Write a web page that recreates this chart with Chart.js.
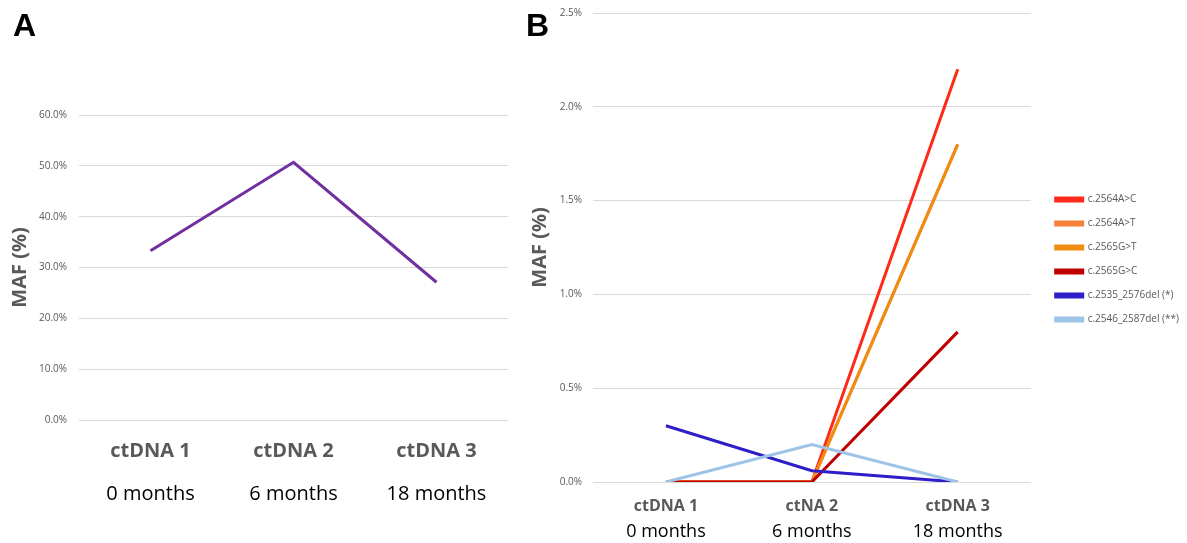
<!DOCTYPE html>
<html>
<head>
<meta charset="utf-8">
<script src="https://cdn.jsdelivr.net/npm/chart.js@4.4.0/dist/chart.umd.min.js"></script>
<style>
body { margin: 0; background: #fff; width: 1187px; height: 543px; overflow: hidden; position: relative; }
.panel { position: absolute; top: 0; height: 543px; }
.tag { position: absolute; top: 9px; font: bold 32px/32px "Liberation Sans", Arial, sans-serif; color: #000; }
</style>
</head>
<body>
<div class="panel" style="left:0;width:520px"><canvas id="chartA"></canvas></div>
<div class="panel" style="left:520px;width:667px"><canvas id="chartB"></canvas></div>
<div class="tag" style="left:13px">A</div>
<div class="tag" style="left:526px">B</div>

<script>
// --- données ---
const samplesA = ['ctDNA 1', 'ctDNA 2', 'ctDNA 3'];
const samplesB = ['ctDNA 1', 'ctNA 2', 'ctDNA 3'];
const months = ['0 months', '6 months', '18 months'];

// panneau A : MAF totale (%)
const mafA = [33.3, 50.7, 27.1];

// panneau B : MAF par variant (%)
const variantNames = ['c.2564A>C', 'c.2564A>T', 'c.2565G>T', 'c.2565G>C', 'c.2535_2576del (*)', 'c.2546_2587del (**)'];
const maf2564AC = [0, 0, 2.2];
const maf2564AT = [0, 0, 1.8];   // caché sous c.2565G>T sur la figure
const maf2565GT = [0, 0, 1.8];
const maf2565GC = [0, 0, 0.8];
const maf2535del = [0.3, 0.06, 0];
const maf2546del = [0, 0.2, 0];

const ticksA = { min: 0, max: 60, step: 10 };
const ticksB = { min: 0, max: 2.5, step: 0.5 };

const variantColors = ['#ff2a1a', '#f4803c', '#f08c10', '#c00000', '#2e1ec8', '#9dc3e6'];

const grey = '#595959';
const baseFont = '"Open Sans", "Noto Sans", sans-serif';

// axe Y : largeur fixée pour caler la zone du graphique
// (lineHeight réduit : sinon la marge réservée en haut dépasse celle d'Excel)
function yScale(t, padTick, width) {
    return {
        min: t.min, max: t.max,
        afterFit: s => { s.width = width; },
        ticks: { stepSize: t.step, padding: padTick, color: grey,
                 font: { family: baseFont, size: 10, lineHeight: 0.2 },
                 callback: v => v.toFixed(1) + '%' },
        grid: { color: '#d9d9d9', drawTicks: false },
        border: { display: false },
        title: { display: true, text: 'MAF (%)', color: grey, padding: { top: 8, bottom: 0 },
                 font: { family: baseFont, size: 20, weight: 'bold' } }
    };
}

// deux axes X empilés : échantillon (gras, gris) puis délai (noir)
function xScales(size1, size2, pad1, pad2, h1, h2) {
    return {
        x: {
            offset: true,
            afterFit: s => { s.height = h1; },
            grid: { display: false, drawTicks: false }, border: { display: false },
            ticks: { padding: pad1, color: grey, font: { family: baseFont, size: size1, weight: 'bold' } }
        },
        x2: {
            type: 'category', labels: months, offset: true, position: 'bottom',
            afterFit: s => { s.height = h2; },
            grid: { display: false, drawTicks: false }, border: { display: false },
            ticks: { padding: pad2, color: '#000', font: { family: baseFont, size: size2 } }
        }
    };
}

// décale la légende de B (plus loin du tracé, un peu plus haut)
const legendNudge = {
    id: 'legendNudge',
    afterLayout(chart) {
        const lg = chart.legend;
        lg.left += 11; lg.right += 11;
        lg.bottom -= 37; lg.height -= 37;
    }
};

// --- graphique A ---
const scalesA = xScales(20, 20, 19, 19, 43, 50);
scalesA.y = yScale(ticksA, 12, 79);
new Chart(document.getElementById('chartA'), {
    type: 'line',
    data: {
        labels: samplesA,
        datasets: [{ data: mafA, borderColor: '#7030a0', borderWidth: 3, pointRadius: 0, tension: 0 }]
    },
    options: {
        responsive: true, maintainAspectRatio: false, animation: false,
        layout: { padding: { left: 0, top: 115, right: 12, bottom: 30 } },
        plugins: { legend: { display: false }, tooltip: { enabled: false } },
        scales: scalesA
    }
});

// --- graphique B ---
const seriesB = [maf2564AC, maf2564AT, maf2565GT, maf2565GC, maf2535del, maf2546del];
const scalesB = xScales(16, 18, 15, 4, 35, 26);
scalesB.y = yScale(ticksB, 11, 73);
new Chart(document.getElementById('chartB'), {
    type: 'line',
    data: {
        labels: samplesB,
        datasets: seriesB.map((vals, i) => ({
            label: variantNames[i], data: vals,
            borderColor: variantColors[i], backgroundColor: variantColors[i],
            borderWidth: 3, pointRadius: 0, tension: 0,
            order: seriesB.length - 1 - i   // comme Excel : la dernière série au-dessus
        }))
    },
    options: {
        responsive: true, maintainAspectRatio: false, animation: false,
        layout: { padding: { left: 0, top: 13, right: 9, bottom: 0 } },
        plugins: {
            tooltip: { enabled: false },
            legend: {
                position: 'right',
                labels: {
                    boxWidth: 27, boxHeight: 3, padding: 14, color: grey,
                    font: { family: baseFont, size: 10 },
                    sort: (a, b) => a.datasetIndex - b.datasetIndex
                }
            }
        },
        scales: scalesB
    },
    plugins: [legendNudge]
});
</script>
</body>
</html>
